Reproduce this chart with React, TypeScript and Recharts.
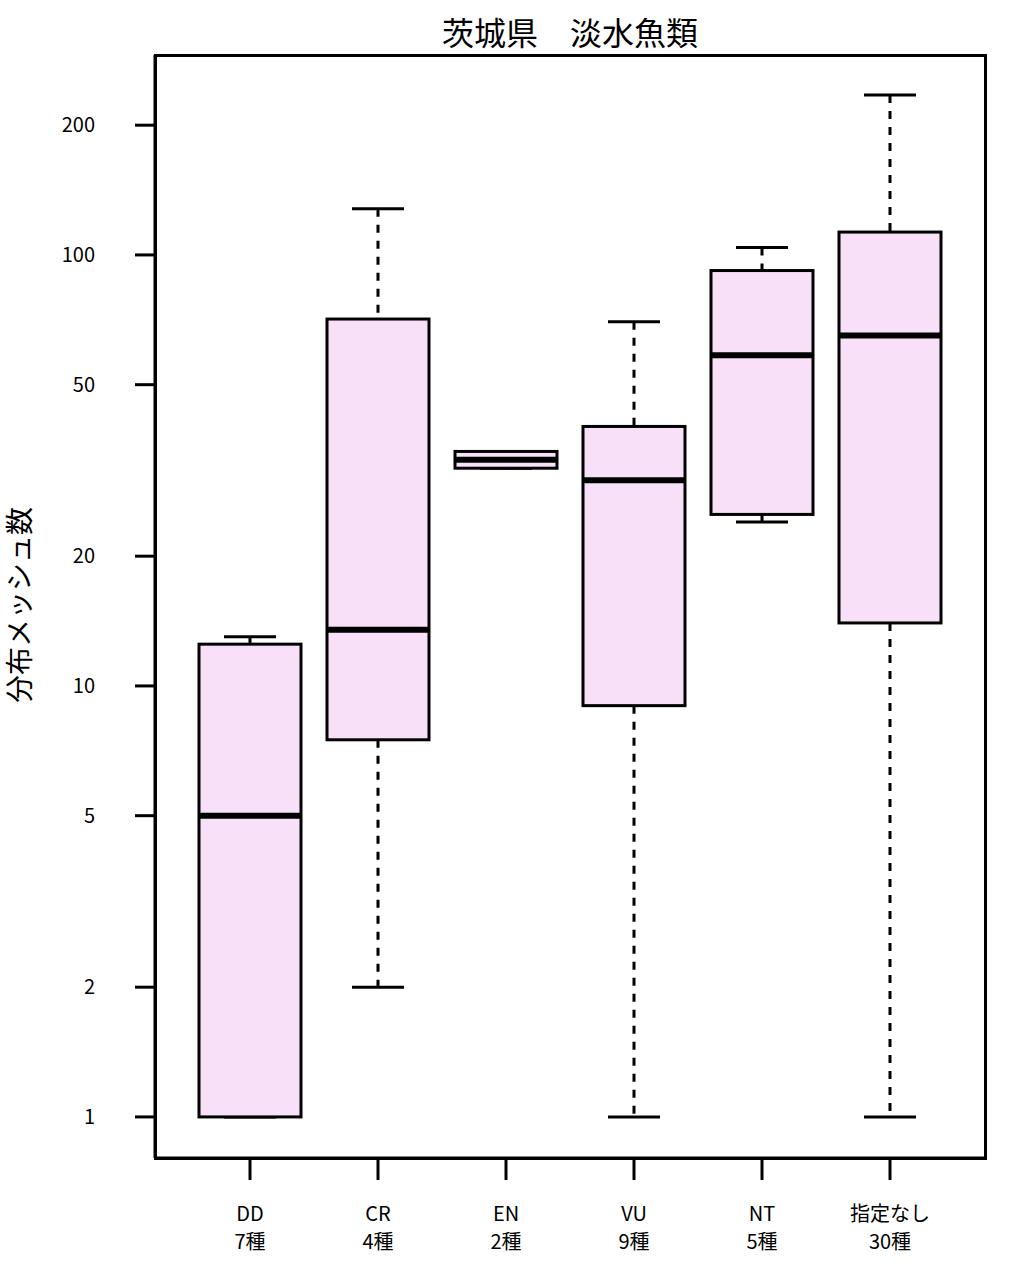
import { Bar, ComposedChart, XAxis, YAxis } from "recharts";

const categories = ["DD", "CR", "EN", "VU", "NT", "指定なし"];
const speciesCounts = [7, 4, 2, 9, 5, 30];
const whiskerLow = [1, 2, 32, 1, 24, 1];
const lowerQuartile = [1, 7.5, 32, 9, 25, 14];
const medians = [5, 13.5, 33.5, 30, 58.5, 65];
const upperQuartile = [12.5, 71, 35, 40, 92, 113];
const whiskerHigh = [13, 128, 35, 70, 104, 235];
const yTicks = [1, 2, 5, 10, 20, 50, 100, 200];

const FONT = "'Liberation Sans Narrow', 'Noto Sans CJK JP', sans-serif";
const FILL = "#f8e0f8";

const data = categories.map((name, i) => ({
	name,
	label: `${speciesCounts[i]}種`,
	range: [whiskerLow[i], whiskerHigh[i]],
	q1: lowerQuartile[i],
	med: medians[i],
	q3: upperQuartile[i],
}));

function BoxShape(props: any) {
	const { x, y, width, height, payload } = props;
	const [lo, hi] = payload.range;
	const top = Math.min(y, y + height);
	const bot = Math.max(y, y + height);
	// map values in log space between the whisker ends the bar already spans
	const px = (v: number) => bot - ((Math.log(v) - Math.log(lo)) / (Math.log(hi) - Math.log(lo))) * (bot - top);
	const cx = x + width / 2;
	const yq1 = px(payload.q1);
	const yq3 = px(payload.q3);
	const ym = px(payload.med);
	const cap = 26;
	return (
		<g>
			<line x1={cx} x2={cx} y1={top} y2={yq3} stroke="#000" strokeWidth={3} strokeDasharray="8 8" />
			<line x1={cx} x2={cx} y1={yq1} y2={bot} stroke="#000" strokeWidth={3} strokeDasharray="8 8" />
			<line x1={cx - cap} x2={cx + cap} y1={top} y2={top} stroke="#000" strokeWidth={3} />
			<line x1={cx - cap} x2={cx + cap} y1={bot} y2={bot} stroke="#000" strokeWidth={3} />
			<rect x={x} y={yq3} width={width} height={yq1 - yq3} fill={FILL} stroke="#000" strokeWidth={3} />
			<line x1={x} x2={x + width} y1={ym} y2={ym} stroke="#000" strokeWidth={6} />
		</g>
	);
}

function CategoryTick(props: any) {
	const { x, y, payload, index } = props;
	return (
		<text x={x} y={y} textAnchor="middle" fontFamily={FONT} fontSize={20} fill="#000">
			<tspan x={x} dy={39}>{payload.value}</tspan>
			<tspan x={x} dy={28}>{data[index]?.label}</tspan>
		</text>
	);
}

export default function App() {
	return (
		<div style={{ position: "absolute", left: 0, top: 0, width: 1010, height: 1272, background: "#fff" }}>
			<div style={{ position: "absolute", top: 8, left: 155, width: 830, textAlign: "center", fontFamily: FONT, fontSize: 32 }}>
				茨城県　淡水魚類
			</div>
			<div
				style={{
					position: "absolute",
					left: 18,
					top: 605,
					transform: "translate(-50%, -50%) rotate(-90deg)",
					whiteSpace: "nowrap",
					fontFamily: FONT,
					fontSize: 28,
				}}
			>
				分布メッシュ数
			</div>
			<ComposedChart width={1010} height={1272} data={data} margin={{ top: 55, right: 25, bottom: 24, left: 55 }}>
				<XAxis
					dataKey="name"
					type="category"
					padding={{ left: 31, right: 31 }}
					height={90}
					tickSize={22}
					tickLine={{ stroke: "#000", strokeWidth: 3 }}
					axisLine={{ stroke: "#000", strokeWidth: 3 }}
					tick={<CategoryTick />}
					interval={0}
				/>
				<YAxis
					scale="log"
					type="number"
					domain={[0.803, 291]}
					allowDataOverflow
					ticks={yTicks}
					width={100}
					tickSize={20}
					tickMargin={40}
					tickLine={{ stroke: "#000", strokeWidth: 3 }}
					axisLine={{ stroke: "#000", strokeWidth: 3 }}
					tick={{ fill: "#000", fontSize: 20, fontFamily: FONT }}
				/>
				<Bar dataKey="range" barSize={102} shape={<BoxShape />} isAnimationActive={false} />
			</ComposedChart>
			<div
				style={{
					position: "absolute",
					left: 153.5,
					top: 53.5,
					width: 833,
					height: 1106,
					border: "3px solid #000",
					boxSizing: "border-box",
					pointerEvents: "none",
				}}
			/>
		</div>
	);
}
